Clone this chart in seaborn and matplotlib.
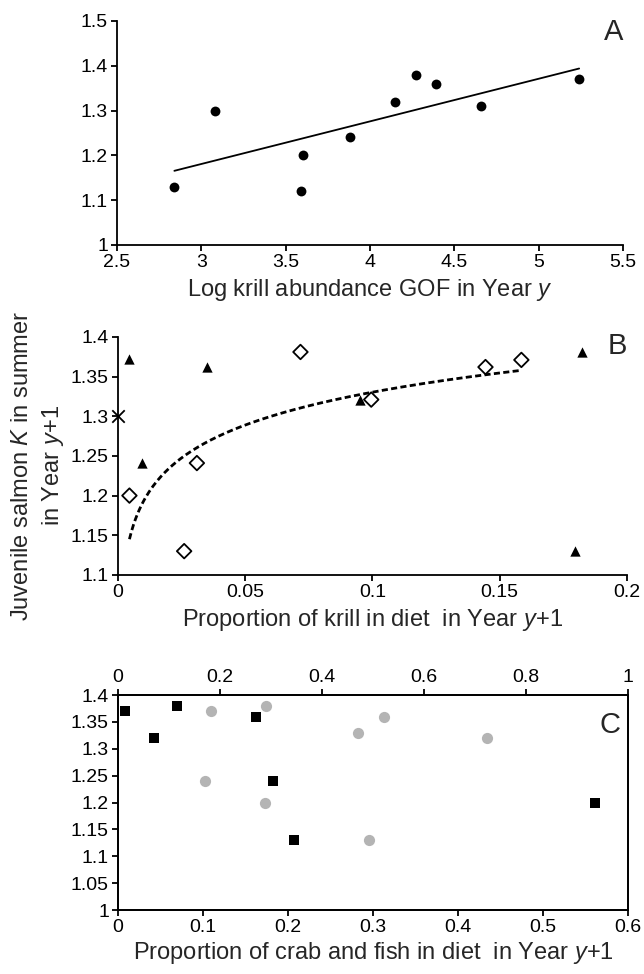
import numpy as np
import seaborn as sns
import matplotlib
matplotlib.use('Agg')
import matplotlib.pyplot as plt
from matplotlib.ticker import FuncFormatter


# ---- data ----
# Panel A: log krill abundance GOF (year y) vs salmon K (year y+1)
krillAbund = [2.84, 3.08, 3.60, 3.59, 3.88, 4.15, 4.27, 4.39, 4.66, 5.24]
condA = [1.13, 1.30, 1.20, 1.12, 1.24, 1.32, 1.38, 1.36, 1.31, 1.37]

# Panel B: proportion of krill in diet
triX = [0.0045, 0.035, 0.0093, 0.095, 0.1823, 0.1797]
triY = [1.372, 1.362, 1.241, 1.321, 1.381, 1.130]
diaX = [0.0045, 0.026, 0.031, 0.0717, 0.0995, 0.1444, 0.1585]
diaY = [1.200, 1.130, 1.241, 1.381, 1.321, 1.362, 1.371]
crossX = [0.0]
crossY = [1.30]

# Panel C: crab and fish in diet (squares -> bottom axis, dots -> top axis)
sqX = [0.0087, 0.042, 0.070, 0.162, 0.182, 0.2068, 0.561]
sqY = [1.37, 1.32, 1.38, 1.36, 1.24, 1.13, 1.20]
dotX = [0.182, 0.291, 0.1715, 0.2874, 0.471, 0.522, 0.723, 0.4928]
dotY = [1.37, 1.38, 1.24, 1.20, 1.33, 1.36, 1.32, 1.13]


sns.set_style('ticks')
plt.rcParams['font.family'] = ['Liberation Sans', 'DejaVu Sans']
plt.rcParams['mathtext.fontset'] = 'custom'
plt.rcParams['mathtext.rm'] = 'Liberation Sans'
plt.rcParams['mathtext.it'] = 'Liberation Sans:italic'
plt.rcParams['axes.linewidth'] = 1.3
plt.rcParams['axes.edgecolor'] = 'black'

TICK = 14
LAB = 17
fmt = FuncFormatter(lambda v, p: '%g' % round(v, 4))


def styleAxis(ax):
    ax.tick_params(direction='out', length=4, width=1.3, labelsize=TICK,
                   colors='black', pad=2.5)
    ax.xaxis.set_major_formatter(fmt)
    ax.yaxis.set_major_formatter(fmt)


fig = plt.figure(figsize=(6.44, 9.74), dpi=100)

#-------------- Panel A --------------
axA = fig.add_axes([0.1817, 0.7485, 0.7857, 0.2300])
sns.regplot(x=krillAbund, y=condA, ax=axA, ci=None, color='black',
            scatter_kws={'s': 50, 'linewidths': 0, 'alpha': 1},
            line_kws={'lw': 1.3})
axA.set_xlim(2.5, 5.5)
axA.set_ylim(1.0, 1.5)
axA.set_xticks(np.arange(2.5, 5.51, 0.5))
axA.set_yticks(np.arange(1.0, 1.51, 0.1))
sns.despine(ax=axA)
styleAxis(axA)
axA.set_xlabel(r'Log krill abundance GOF in Year $\it{y}$', fontsize=LAB, labelpad=4)
axA.text(1.0, 0.95, 'A', transform=axA.transAxes, fontsize=21,
         ha='right', va='center')

#-------------- Panel B --------------
axB = fig.add_axes([0.1832, 0.4097, 0.7904, 0.2444])
sns.scatterplot(x=triX, y=triY, ax=axB, marker='^', s=55, color='black',
                linewidth=0)
sns.scatterplot(x=diaX, y=diaY, ax=axB, marker='D', s=55, facecolor='none',
                edgecolor='black', linewidth=1.3)
sns.scatterplot(x=crossX, y=crossY, ax=axB, marker='x', s=80, color='black',
                linewidth=1.3, clip_on=False)

# logarithmic trend through the open diamonds
b, a = np.polyfit(np.log(diaX), diaY, 1)
fitX = np.linspace(min(diaX), max(diaX), 200)
sns.lineplot(x=fitX, y=a + b * np.log(fitX), ax=axB, color='black', lw=2.0,
             dashes=False)
axB.lines[-1].set_dashes((2.2, 1.2))

axB.set_xlim(0, 0.2)
axB.set_ylim(1.1, 1.4)
axB.set_xticks(np.arange(0, 0.201, 0.05))
axB.set_yticks(np.arange(1.1, 1.401, 0.05))
sns.despine(ax=axB)
styleAxis(axB)
axB.set_xlabel(r'Proportion of krill in diet  in Year $\it{y}$+1', fontsize=LAB, labelpad=4)
axB.text(1.0, 0.96, 'B', transform=axB.transAxes, fontsize=21,
         ha='right', va='center')

#-------------- Panel C --------------
axC = fig.add_axes([0.1832, 0.0657, 0.7920, 0.2207])
sns.scatterplot(x=sqX, y=sqY, ax=axC, marker='s', s=50, color='black',
                linewidth=0)
axC.set_xlim(0, 0.6)
axC.set_ylim(1.0, 1.4)
axC.set_xticks(np.arange(0, 0.601, 0.1))
axC.set_yticks(np.arange(1.0, 1.401, 0.05))
styleAxis(axC)
axC.tick_params(right=False)
axC.set_xlabel(r'Proportion of crab and fish in diet  in Year $\it{y}$+1', fontsize=LAB, labelpad=3)

axC2 = axC.twiny()
sns.scatterplot(x=dotX, y=dotY, ax=axC2, marker='o', s=65, color='#b4b4b4',
                linewidth=0)
axC2.set_xlim(0, 1)
axC2.set_ylim(1.0, 1.4)
axC2.set_xticks(np.arange(0, 1.01, 0.2))
styleAxis(axC2)
axC2.set_ylabel('')
axC2.text(0.985, 0.86, 'C', transform=axC2.transAxes, fontsize=21,
          ha='right', va='center')

# shared y label
fig.text(0.060, 0.522, 'Juvenile salmon $\\it{K}$ in summer\nin Year $\\it{y}$+1',
         rotation=90, ha='center', va='center', fontsize=LAB, linespacing=1.35,
         multialignment='center')

fig.savefig('out.png', dpi=100, facecolor='white')
